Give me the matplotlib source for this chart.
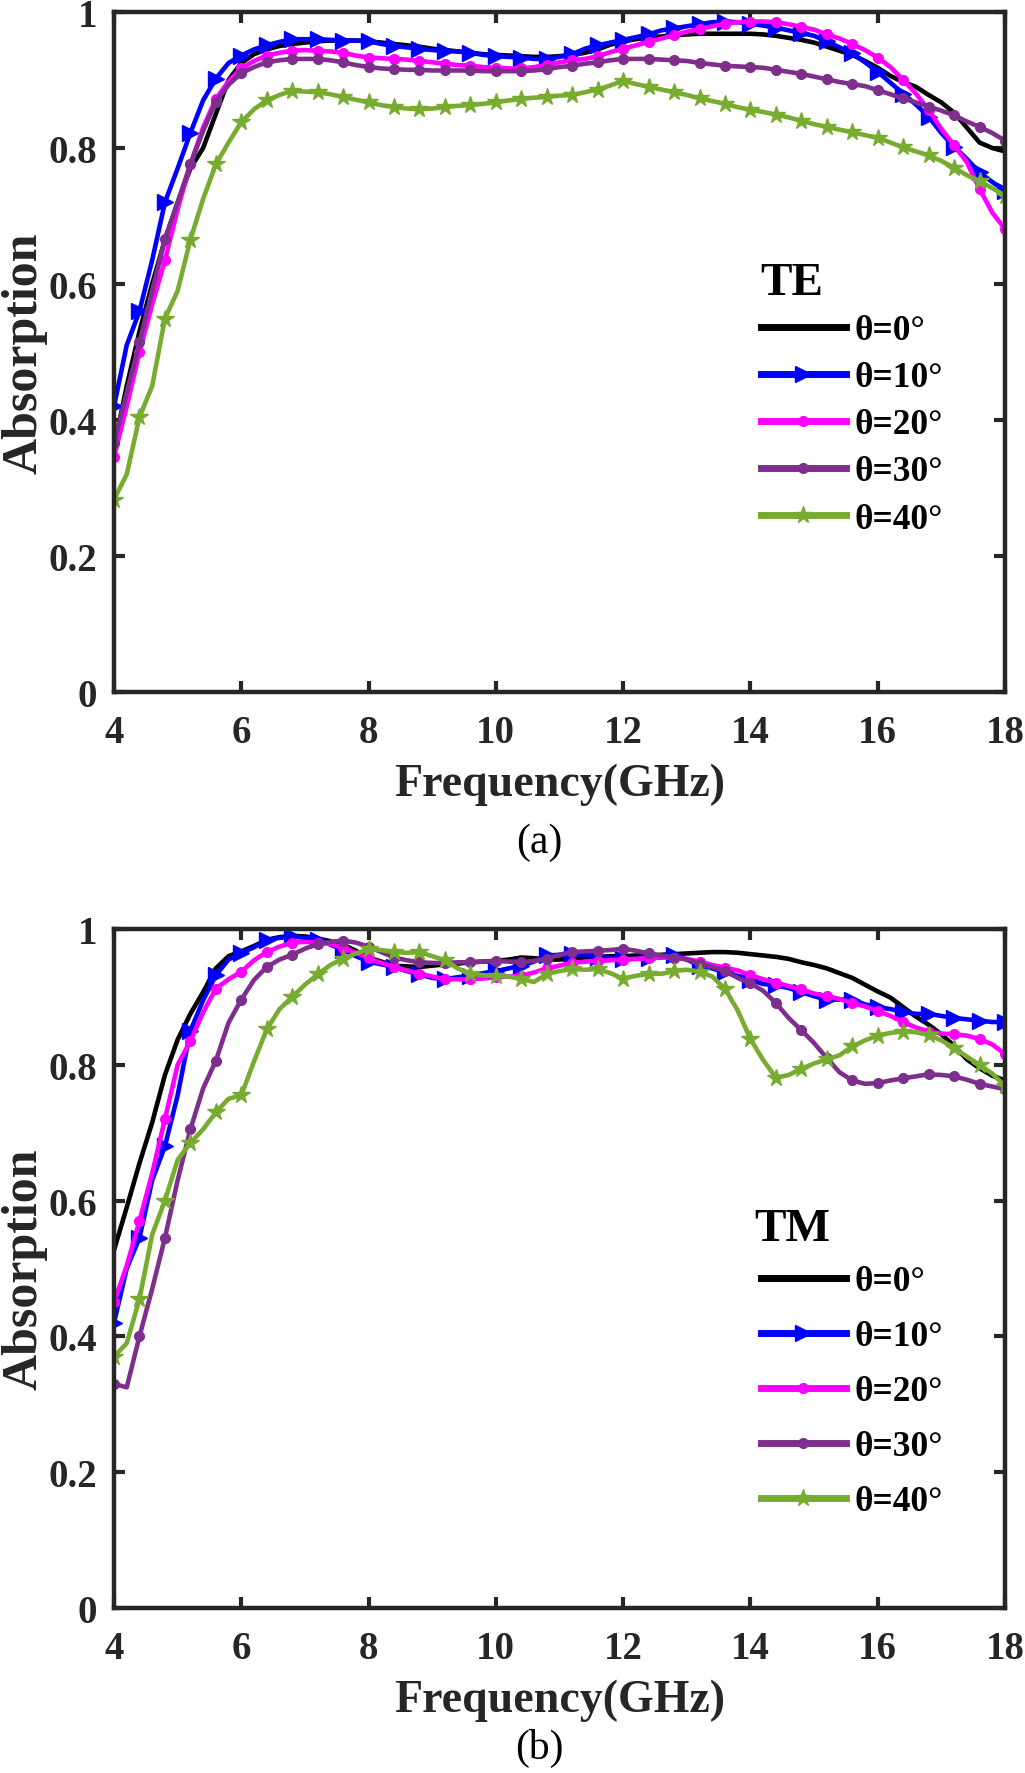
import matplotlib
matplotlib.use("Agg")
import matplotlib.pyplot as plt

plt.rcParams['font.family'] = ['Liberation Serif', 'DejaVu Serif']
plt.rcParams['font.weight'] = 'bold'

# frequency grid (GHz), 4 to 18 in 0.2 steps
freq = [4.0 + 0.2 * i for i in range(71)]

labels = ["θ=0°", "θ=10°", "θ=20°", "θ=30°", "θ=40°"]

# ---- TE ----
te_0 = [0.36, 0.45, 0.53, 0.60, 0.665, 0.72, 0.77, 0.80, 0.85, 0.90,
        0.925, 0.938, 0.945, 0.95, 0.953, 0.955, 0.957, 0.958, 0.958, 0.958,
        0.957, 0.955, 0.953, 0.951, 0.949, 0.946, 0.944, 0.942, 0.94, 0.938,
        0.937, 0.936, 0.935, 0.934, 0.934, 0.935, 0.937, 0.94, 0.945, 0.952,
        0.957, 0.96, 0.962, 0.964, 0.966, 0.967, 0.968, 0.968, 0.968, 0.968,
        0.968, 0.967, 0.965, 0.962, 0.959, 0.955, 0.949, 0.943, 0.937, 0.928,
        0.918, 0.906, 0.897, 0.89, 0.878, 0.867, 0.852, 0.83, 0.808, 0.80,
        0.795]
te_10 = [0.42, 0.51, 0.56, 0.635, 0.72, 0.77, 0.822, 0.87, 0.902, 0.925,
         0.936, 0.945, 0.951, 0.956, 0.96, 0.96, 0.96, 0.959, 0.958, 0.958,
         0.957, 0.953, 0.95, 0.948, 0.946, 0.944, 0.943, 0.942, 0.94, 0.937,
         0.935, 0.934, 0.933, 0.931, 0.931, 0.934, 0.938, 0.946, 0.951, 0.955,
         0.959, 0.963, 0.967, 0.973, 0.976, 0.979, 0.982, 0.985, 0.986, 0.985,
         0.983, 0.98, 0.977, 0.973, 0.969, 0.965, 0.957, 0.948, 0.939, 0.926,
         0.912, 0.896, 0.88, 0.864, 0.846, 0.822, 0.802, 0.784, 0.764, 0.75,
         0.737]
te_20 = [0.346, 0.42, 0.50, 0.57, 0.635, 0.71, 0.776, 0.83, 0.872, 0.898,
         0.917, 0.928, 0.936, 0.94, 0.943, 0.944, 0.943, 0.942, 0.94, 0.936,
         0.933, 0.932, 0.931, 0.93, 0.928, 0.926, 0.924, 0.922, 0.921, 0.919,
         0.918, 0.917, 0.917, 0.919, 0.922, 0.926, 0.929, 0.931, 0.935, 0.941,
         0.946, 0.951, 0.956, 0.961, 0.966, 0.971, 0.975, 0.979, 0.983, 0.985,
         0.986, 0.986, 0.985, 0.982, 0.978, 0.974, 0.967, 0.961, 0.953, 0.944,
         0.933, 0.919, 0.90, 0.88, 0.856, 0.828, 0.804, 0.779, 0.74, 0.705,
         0.681]
te_30 = [0.366, 0.44, 0.514, 0.59, 0.666, 0.72, 0.776, 0.825, 0.868, 0.893,
         0.91, 0.919, 0.926, 0.929, 0.931, 0.931, 0.931, 0.929, 0.926, 0.922,
         0.919, 0.917, 0.916, 0.915, 0.915, 0.914, 0.914, 0.914, 0.914, 0.913,
         0.913, 0.913, 0.913, 0.914, 0.916, 0.919, 0.921, 0.924, 0.926, 0.929,
         0.931, 0.931, 0.931, 0.93, 0.929, 0.928, 0.925, 0.923, 0.921, 0.92,
         0.919, 0.918, 0.915, 0.912, 0.909, 0.905, 0.901, 0.897, 0.894, 0.891,
         0.885, 0.879, 0.873, 0.867, 0.861, 0.855, 0.848, 0.839, 0.831, 0.822,
         0.811]
te_40 = [0.283, 0.32, 0.404, 0.45, 0.549, 0.59, 0.665, 0.725, 0.776, 0.808,
         0.838, 0.857, 0.87, 0.878, 0.884, 0.883, 0.882, 0.879, 0.875, 0.871,
         0.867, 0.863, 0.86, 0.858, 0.857, 0.858, 0.86, 0.862, 0.863, 0.865,
         0.867, 0.87, 0.872, 0.874, 0.875, 0.877, 0.878, 0.882, 0.886, 0.892,
         0.899, 0.894, 0.89, 0.886, 0.882, 0.878, 0.873, 0.869, 0.865, 0.86,
         0.856, 0.853, 0.849, 0.845, 0.84, 0.835, 0.831, 0.827, 0.823, 0.819,
         0.815, 0.808, 0.801, 0.795, 0.789, 0.781, 0.771, 0.76, 0.751, 0.741,
         0.73]

# ---- TM ----
tm_0 = [0.527, 0.59, 0.655, 0.715, 0.785, 0.837, 0.875, 0.907, 0.942, 0.96,
        0.967, 0.975, 0.984, 0.988, 0.99, 0.989, 0.986, 0.982, 0.977, 0.968,
        0.958, 0.952, 0.946, 0.945, 0.944, 0.946, 0.948, 0.949, 0.951, 0.952,
        0.953, 0.955, 0.958, 0.957, 0.955, 0.955, 0.956, 0.958, 0.959, 0.96,
        0.96, 0.961, 0.961, 0.962, 0.963, 0.964, 0.965, 0.966, 0.966, 0.965,
        0.963, 0.961, 0.959, 0.956, 0.951, 0.947, 0.942, 0.935, 0.928, 0.918,
        0.908, 0.899, 0.885, 0.871, 0.859, 0.845, 0.828, 0.808, 0.795, 0.784,
        0.777]
tm_10 = [0.42, 0.50, 0.545, 0.63, 0.68, 0.755, 0.85, 0.895, 0.932, 0.955,
         0.965, 0.973, 0.984, 0.987, 0.989, 0.987, 0.984, 0.977, 0.969, 0.96,
         0.952, 0.948, 0.944, 0.938, 0.933, 0.928, 0.926, 0.929, 0.931, 0.935,
         0.938, 0.942, 0.946, 0.952, 0.961, 0.962, 0.963, 0.962, 0.959, 0.957,
         0.956, 0.956, 0.957, 0.958, 0.962, 0.955, 0.946, 0.942, 0.936, 0.931,
         0.925, 0.919, 0.917, 0.913, 0.907, 0.901, 0.896, 0.896, 0.896, 0.889,
         0.885, 0.882, 0.878, 0.875, 0.875, 0.872, 0.869, 0.867, 0.865, 0.863,
         0.863]
tm_20 = [0.45, 0.504, 0.57, 0.64, 0.72, 0.80, 0.835, 0.877, 0.912, 0.926,
         0.937, 0.954, 0.966, 0.974, 0.98, 0.981, 0.98, 0.978, 0.972, 0.965,
         0.957, 0.95, 0.944, 0.939, 0.934, 0.93, 0.926, 0.926, 0.926, 0.927,
         0.929, 0.93, 0.931, 0.936, 0.942, 0.946, 0.95, 0.952, 0.953, 0.954,
         0.955, 0.956, 0.957, 0.958, 0.958, 0.956, 0.952, 0.947, 0.943, 0.939,
         0.932, 0.926, 0.921, 0.916, 0.911, 0.905, 0.901, 0.897, 0.891, 0.886,
         0.879, 0.872, 0.863, 0.855, 0.849, 0.846, 0.845, 0.843, 0.838, 0.83,
         0.816]
tm_30 = [0.33, 0.325, 0.40, 0.47, 0.545, 0.63, 0.705, 0.765, 0.806, 0.862,
         0.896, 0.925, 0.944, 0.955, 0.962, 0.971, 0.978, 0.981, 0.983, 0.98,
         0.974, 0.966, 0.958, 0.954, 0.951, 0.95, 0.95, 0.951, 0.951, 0.952,
         0.953, 0.952, 0.951, 0.953, 0.956, 0.962, 0.966, 0.967, 0.968, 0.969,
         0.971, 0.968, 0.964, 0.961, 0.958, 0.955, 0.949, 0.944, 0.938, 0.928,
         0.92, 0.909, 0.891, 0.869, 0.851, 0.832, 0.81, 0.789, 0.777, 0.772,
         0.773, 0.777, 0.78, 0.783, 0.786, 0.785, 0.783, 0.778, 0.772, 0.768,
         0.764]
tm_40 = [0.37, 0.39, 0.455, 0.55, 0.60, 0.66, 0.685, 0.705, 0.73, 0.75,
         0.755, 0.805, 0.852, 0.882, 0.90, 0.918, 0.933, 0.947, 0.956, 0.964,
         0.97, 0.969, 0.966, 0.965, 0.966, 0.96, 0.954, 0.942, 0.934, 0.932,
         0.931, 0.93, 0.926, 0.922, 0.934, 0.938, 0.941, 0.94, 0.941, 0.935,
         0.927, 0.931, 0.934, 0.934, 0.938, 0.94, 0.937, 0.93, 0.912, 0.88,
         0.838, 0.807, 0.781, 0.785, 0.794, 0.802, 0.808, 0.814, 0.827, 0.836,
         0.843, 0.847, 0.849, 0.848, 0.844, 0.836, 0.825, 0.812, 0.80, 0.787,
         0.769]

colors = ['black', '#0000FF', '#FF00FF', '#7E2F8E', '#77AC30']
markers = [None, '>', 'o', 'o', '*']
msizes = [0, 11, 7, 7, 13]
axis_col = '#262626'

fig = plt.figure(figsize=(10.25, 17.74), dpi=100)
W, H = 1025.0, 1774.0
ax1 = fig.add_axes([114 / W, 1 - 693 / H, 891 / W, 680 / H])
ax2 = fig.add_axes([114 / W, 1 - 1609 / H, 891 / W, 679 / H])


def draw(ax, series, mode, leg_y, title_y, spacing):
    for s, c, m, ms, lab in zip(series, colors, markers, msizes, labels):
        ax.plot(freq, s, color=c, lw=3.3, marker=m, markersize=ms,
                markevery=2, label=lab)
    ax.set_xlim(4, 18)
    ax.set_ylim(0, 1)
    ax.set_xticks(range(4, 19, 2))
    ax.set_yticks([0, 0.2, 0.4, 0.6, 0.8, 1])
    ax.set_yticklabels(['0', '0.2', '0.4', '0.6', '0.8', '1'])
    ax.tick_params(direction='in', length=8, width=3, top=True, right=True,
                   labelsize=28, colors=axis_col, pad=12)
    ax.tick_params(axis='x', pad=16)
    for sp in ax.spines.values():
        sp.set_linewidth(3.2)
        sp.set_color(axis_col)
    ax.set_xlabel('Frequency(GHz)', fontsize=33, fontweight='bold',
                  color=axis_col, labelpad=8)
    ax.set_ylabel('Absorption', fontsize=36, fontweight='bold',
                  color=axis_col, labelpad=1)
    ax.text(0.761, title_y, mode, transform=ax.transAxes, fontsize=34,
            fontweight='bold', ha='center', va='center', color='black')
    leg = ax.legend(loc='upper left', bbox_to_anchor=(0.726, leg_y),
                    frameon=False, fontsize=25.5, handlelength=2.4,
                    handletextpad=0.25, labelspacing=spacing,
                    borderaxespad=0, borderpad=0)
    for line in leg.get_lines():
        line.set_linewidth(5)


draw(ax1, [te_0, te_10, te_20, te_30, te_40], 'TE', 0.556, 0.602, 0.40)
draw(ax2, [tm_0, tm_10, tm_20, tm_30, tm_40], 'TM', 0.505, 0.558, 0.62)

fig.text(539 / W, 1 - 843 / H, '(a)', fontsize=30, fontweight='normal',
         ha='center', va='center', color='black')
fig.text(539 / W, 1 - 1748 / H, '(b)', fontsize=30, fontweight='normal',
         ha='center', va='center', color='black')

fig.savefig('out.png', dpi=100)
